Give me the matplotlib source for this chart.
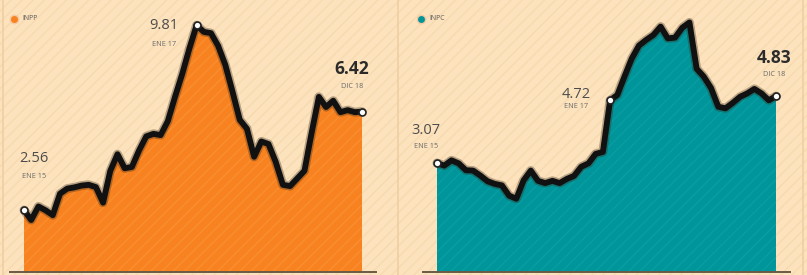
import matplotlib
matplotlib.use("Agg")
import matplotlib.pyplot as plt
import matplotlib.patheffects as pe
from matplotlib.patches import Rectangle

# ---------------- data ----------------
months = ["ENE 15"] + [""] * 46 + ["DIC 18"]
inpp = [2.56, 2.17, 2.70, 2.55, 2.36, 3.20, 3.40, 3.45, 3.52, 3.55, 3.46, 2.85,
        4.10, 4.75, 4.20, 4.25, 4.90, 5.45, 5.55, 5.50, 6.05, 7.00, 7.90, 8.90,
        9.81, 9.55, 9.50, 9.00, 8.25, 7.20, 6.10, 5.75, 4.65, 5.25, 5.15, 4.45,
        3.55, 3.50, 3.80, 4.10, 5.60, 7.00, 6.60, 6.85, 6.40, 6.48, 6.40, 6.42]
inpc = [3.07, 3.00, 3.14, 3.06, 2.88, 2.87, 2.74, 2.59, 2.52, 2.48, 2.21, 2.13,
        2.61, 2.87, 2.60, 2.54, 2.60, 2.54, 2.65, 2.73, 2.97, 3.06, 3.31, 3.36,
        4.72, 4.86, 5.35, 5.82, 6.16, 6.31, 6.44, 6.66, 6.35, 6.37, 6.63, 6.77,
        5.55, 5.34, 5.04, 4.55, 4.51, 4.65, 4.81, 4.90, 5.02, 4.90, 4.72, 4.83]
series_names = ["INPP", "INPC"]
# labelled points: (index, label text, date text)
inpp_marks = [(0, "2.56", "ENE 15"), (24, "9.81", "ENE 17"), (47, "6.42", "DIC 18")]
inpc_marks = [(0, "3.07", "ENE 15"), (24, "4.72", "ENE 17"), (47, "4.83", "DIC 18")]

# ---------------- style ----------------
W, H = 807, 275
BG = "#fce3bd"
HATCH_BG = "#f7dab0"
ORANGE = "#f7821f"
TEAL = "#00959a"
plt.rcParams["font.family"] = ["Open Sans", "DejaVu Sans"]
plt.rcParams["hatch.linewidth"] = 1.1

fig = plt.figure(figsize=(W / 100, H / 100), dpi=100, facecolor=BG)

# hatched background
bgrect = Rectangle((0, 0), 1, 1, transform=fig.transFigure, facecolor=BG,
                   edgecolor=HATCH_BG, hatch="///", linewidth=0, zorder=-10)
fig.patches.append(bgrect)

def px(x, y):
    return x / W, 1 - y / H

def make_panel(x0px, x1px, ylo, yhi):
    n = len(months)
    ppi = (x1px - x0px) / (n - 1)
    left = x0px - 2 * ppi
    right = x1px + 2 * ppi
    bottom_px = 272
    ax = fig.add_axes([left / W, (H - bottom_px) / H, (right - left) / W, bottom_px / H])
    ax.set_xlim(-2, n + 1)
    ax.set_ylim(ylo, yhi)
    ax.patch.set_alpha(0)
    for s in ["left", "right", "top"]:
        ax.spines[s].set_visible(False)
    ax.spines["bottom"].set_color("#6b5a45")
    ax.spines["bottom"].set_linewidth(1.4)
    ax.set_xticks([])
    ax.set_yticks([])
    return ax

def draw(ax, vals, color, hatchcol, marks):
    x = list(range(len(vals)))
    ax.fill_between(x, vals, ax.get_ylim()[0], facecolor=color, edgecolor=hatchcol,
                    hatch="///", linewidth=0, zorder=2)
    ax.plot(x, vals, color="#111111", lw=4.2, solid_joinstyle="round",
            solid_capstyle="round", zorder=4,
            path_effects=[pe.Stroke(linewidth=6.5, foreground="#3a2a1a", alpha=0.35),
                          pe.Normal()])
    for i, _, _ in marks:
        ax.plot(i, vals[i], "o", ms=5, mfc="white", mec="#222222", mew=1.2, zorder=5)

# left panel
axL = make_panel(24, 362, 0.13, 10.8)
draw(axL, inpp, ORANGE, "#f98d2f", inpp_marks)
# right panel
axR = make_panel(437, 776, 0.20, 7.36)
draw(axR, inpc, TEAL, "#079da1", inpc_marks)

# divider lines
for xl in [398, 3, 803]:
    fig.add_artist(plt.Line2D([xl / W, xl / W], [0, 1], color="#efcfa2", lw=1.2,
                              transform=fig.transFigure, zorder=-5))

GRAY = "#4d4d4d"
def label(xc, yv, yd, val, date, bold=False, ha="center"):
    fig.text(*px(xc, yv), val, ha=ha, va="center", color="#2b2b2b" if bold else GRAY,
             fontsize=12.5 if bold else 10.5, fontweight="bold" if bold else "normal")
    fig.text(*px(xc, yd), date, ha=ha, va="center", color="#6a6a6a", fontsize=5.2)

label(34, 158, 177, inpp_marks[0][1], inpp_marks[0][2])
label(164, 26, 44, inpp_marks[1][1], inpp_marks[1][2])
label(352, 69, 86, inpp_marks[2][1], inpp_marks[2][2], bold=True)
label(426, 131, 146, inpc_marks[0][1], inpc_marks[0][2])
label(576, 94, 106, inpc_marks[1][1], inpc_marks[1][2])
label(774, 58, 74, inpc_marks[2][1], inpc_marks[2][2], bold=True)

# legends
for (xd, col, name) in [(14, ORANGE, series_names[0]), (421, TEAL, series_names[1])]:
    fig.add_artist(plt.Line2D([xd / W], [1 - 19 / H], marker="o", ms=6, color=col,
                              mec="#f6c9a0", mew=1, transform=fig.transFigure))
    fig.text(*px(xd + 8, 19), name, ha="left", va="center", fontsize=5, color="#5a5a5a")

fig.savefig("out.png", dpi=100, facecolor=BG)
